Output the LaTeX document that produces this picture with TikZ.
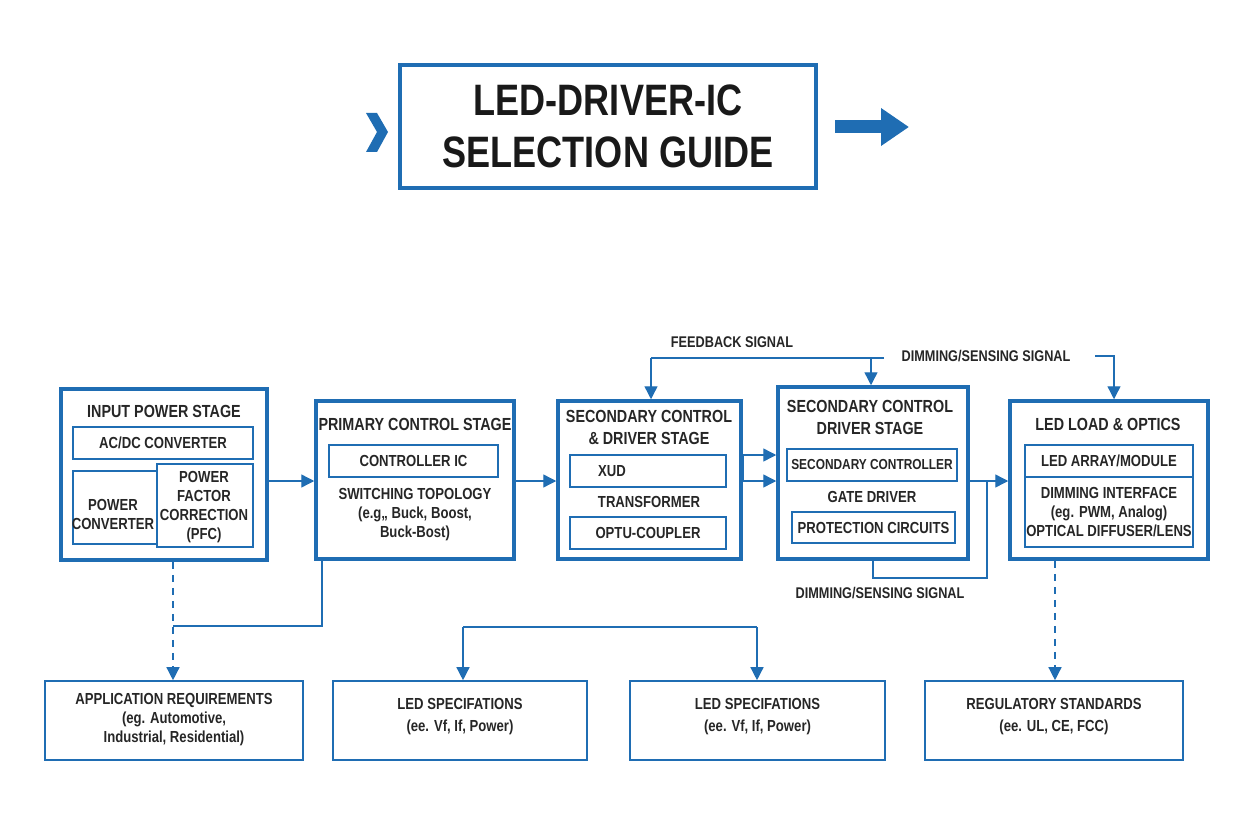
\documentclass[tikz,border=0pt]{standalone}
\usepackage{fontspec}
\setmainfont{Liberation Sans}[FakeStretch=0.82]
\usetikzlibrary{arrows.meta}
\definecolor{bl}{HTML}{1F6DB3}
\begin{document}
\begin{tikzpicture}[x=1pt,y=-1pt,
 obox/.style={draw=bl,line width=3.5pt,inner sep=0pt},
 ibox/.style={draw=bl,line width=1.3pt,inner sep=0pt},
 t/.style={font=\fontsize{16}{19}\selectfont\bfseries,align=center,text=black!85,inner sep=0pt},
 th/.style={font=\fontsize{17.5}{22}\selectfont\bfseries,align=center,text=black!85,inner sep=0pt},
 ln/.style={draw=bl,line width=1.4pt},
 ar/.style={ln,-{Triangle[length=13pt,width=13pt]}},
 da/.style={ar,dash pattern=on 7pt off 6pt}]
\useasboundingbox (0,0) rectangle (1248,832);
% title
\node[obox,minimum width=416,minimum height=123] (title) at (608,126.5) {};
\node[font=\fontsize{44}{52}\selectfont\bfseries,align=center,text=black!90] (tt) at (608,126) {LED-DRIVER-IC\\SELECTION GUIDE};
\fill[bl] (366,113)--(377,113)--(388,132)--(377,152)--(366,152)--(377,132)--cycle;
\coordinate (ra) at (835,127);
\coordinate (rb) at (909,127);
\draw[bl,line width=13pt,-{Triangle[length=28pt,width=36pt]}] (ra)--(rb);
% main boxes
\node[obox,minimum width=206,minimum height=171] (in) at (164,474.5) {};
\node[ibox,minimum width=180,minimum height=32] (acdc) at (163,443) {};
\node[t] at (163,443) {AC/DC CONVERTER};
\node[ibox,minimum width=84,minimum height=73] (pc) at (115,507.5) {};
\node[t] at (113,514) {POWER\\CONVERTER};
\node[ibox,minimum width=96,minimum height=83] (pfc) at (205,505.5) {};
\node[t] at (204,507) {POWER\\FACTOR\\CORRECTION\\(PFC)};
\node[th] at (164,411) {INPUT POWER STAGE};

\node[obox,minimum width=198,minimum height=158] (prim) at (415,480) {};
\node[th] at (415,424) {PRIMARY CONTROL STAGE};
\node[ibox,minimum width=169,minimum height=32] (ctl) at (413.5,461) {};
\node[t] at (413.5,461) {CONTROLLER IC};
\node[t] at (415,515) {SWITCHING TOPOLOGY\\(e.g,, Buck, Boost,\\Buck-Bost)};

\node[obox,minimum width=183,minimum height=158] (s1) at (649.5,480) {};
\node[th] at (649,427) {SECONDARY CONTROL\\\& DRIVER STAGE};
\node[ibox,minimum width=156,minimum height=32] (xud) at (648,471) {};
\node[t,anchor=west] at (598,471) {XUD};
\node[t] at (649,502) {TRANSFORMER};
\node[ibox,minimum width=156,minimum height=32] (opt) at (648,533) {};
\node[t] at (648,533) {OPTU-COUPLER};

\node[obox,minimum width=190,minimum height=172] (s2) at (873,473) {};
\node[th] at (870,417) {SECONDARY CONTROL\\DRIVER STAGE};
\node[ibox,minimum width=170,minimum height=32] (sc) at (872,465) {};
\node[t,font=\fontsize{14.5}{18}\selectfont\bfseries] at (872,465) {SECONDARY CONTROLLER};
\node[t] at (872,497) {GATE DRIVER};
\node[ibox,minimum width=163,minimum height=31] (prot) at (873.5,527.5) {};
\node[t] at (873.5,527.5) {PROTECTION CIRCUITS};

\node[obox,minimum width=198,minimum height=158] (led) at (1109,480) {};
\node[th] at (1108,424) {LED LOAD \& OPTICS};
\node[ibox,minimum width=168,minimum height=32] (arr) at (1109,461) {};
\node[t] at (1109,461) {LED ARRAY/MODULE};
\node[ibox,minimum width=168,minimum height=70] (dim) at (1109,512) {};
\node[t] at (1109,512) {DIMMING INTERFACE\\(eg. PWM, Analog)\\OPTICAL DIFFUSER/LENS};

% bottom boxes
\node[obox,line width=1.6pt,minimum width=258,minimum height=79] (app) at (174,720.5) {};
\node[t] at (174,720) {APPLICATION REQUIREMENTS\\(eg. Automotive,\\Industrial, Residential)};
\node[obox,line width=1.6pt,minimum width=254,minimum height=79] (sp1) at (460,720.5) {};
\node[t] at (460,717) {LED SPECIFATIONS\\[3pt](ee. Vf, If, Power)};
\node[obox,line width=1.6pt,minimum width=255,minimum height=79] (sp2) at (757.5,720.5) {};
\node[t] at (757.5,717) {LED SPECIFATIONS\\[3pt](ee. Vf, If, Power)};
\node[obox,line width=1.6pt,minimum width=258,minimum height=79] (reg) at (1054,720.5) {};
\node[t] at (1054,717) {REGULATORY STANDARDS\\[3pt](ee. UL, CE, FCC)};

% flow arrows
\draw[ar] (in.east|-0,481) -- (prim.west|-0,481);
\draw[ar] (prim.east|-0,481) -- (s1.west|-0,481);
\coordinate (j1) at (743,468);
\draw[ln] (s1.east|-0,468) -- (j1);
\draw[ar] (j1) |- (s2.west|-0,455);
\draw[ar] (j1) |- (s2.west|-0,481);
\draw[ar] (s2.east|-0,481) -- (led.west|-0,481);
\coordinate (d1) at (987,481);
\draw[ln] (d1) |- (873,578) -- (s2.south-|873,0);
\node[t,font=\fontsize{15.5}{19}\selectfont\bfseries] (dl2) at (880,593) {DIMMING/SENSING SIGNAL};

% top signals
\node[t,font=\fontsize{15.5}{19}\selectfont\bfseries] (fb) at (732,342) {FEEDBACK SIGNAL};
\node[t,font=\fontsize{15.5}{19}\selectfont\bfseries] (dl1) at (986,356) {DIMMING/SENSING SIGNAL};
\coordinate (f1) at (651,358);
\coordinate (f2) at (884,358);
\draw[ln] (f2) -- (f1);
\draw[ar] (f1) -- (s1.north-|f1);
\draw[ar] (871,358) -- (s2.north-|871,0);
\coordinate (g1) at (1095,356);
\draw[ar] (g1) -| (led.north-|1114,0);

% bottom connections
\draw[da] (in.south-|173,0) -- (app.north-|173,0);
\draw[ln] (prim.south-|322,0) |- (173,626);
\coordinate (b1) at (463,627);
\coordinate (b2) at (757,627);
\draw[ln] (b1) -- (b2);
\draw[ar] (b1) -- (sp1.north-|b1);
\draw[ar] (b2) -- (sp2.north-|b2);
\draw[da] (led.south-|1055,0) -- (reg.north-|1055,0);
\end{tikzpicture}
\end{document}
